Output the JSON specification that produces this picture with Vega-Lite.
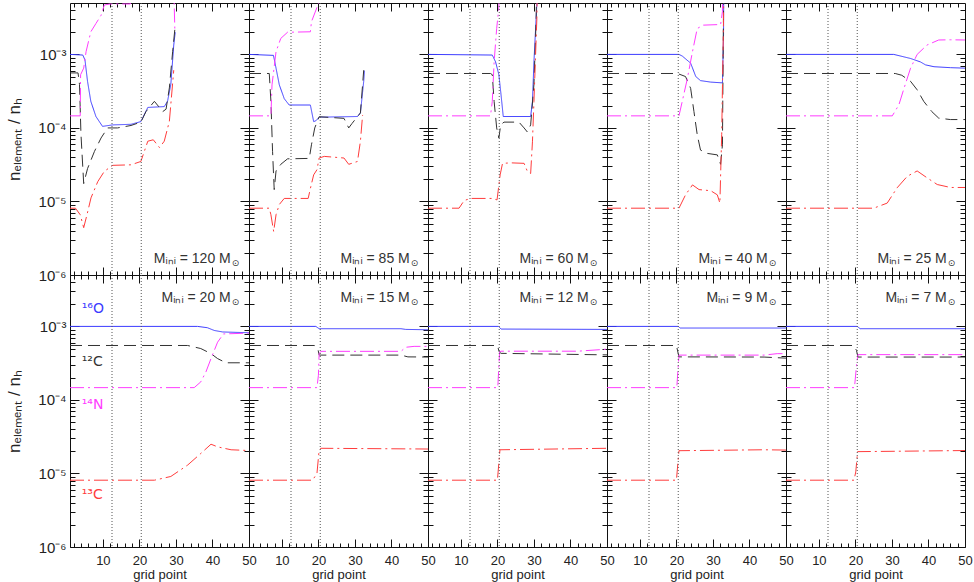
{
"$schema":"https://vega.github.io/schema/vega-lite/v6.json",
"padding":{"left":5,"top":2,"right":5,"bottom":0},
"background":"white",
"columns":5,"spacing":0,"bounds":"flush",
"datasets":{
"vl":[{"x":12.5},{"x":20.5}],
"lab":[
{"m":"120","t":"Mᵢₙᵢ = 120 M","x":45,"y":1.65e-6},
{"m":"85","t":"Mᵢₙᵢ = 85 M","x":45,"y":1.65e-6},
{"m":"60","t":"Mᵢₙᵢ = 60 M","x":45,"y":1.65e-6},
{"m":"40","t":"Mᵢₙᵢ = 40 M","x":45,"y":1.65e-6},
{"m":"25","t":"Mᵢₙᵢ = 25 M","x":45,"y":1.65e-6},
{"m":"20","t":"Mᵢₙᵢ = 20 M","x":45,"y":2.4e-3},
{"m":"15","t":"Mᵢₙᵢ = 15 M","x":45,"y":2.4e-3},
{"m":"12","t":"Mᵢₙᵢ = 12 M","x":45,"y":2.4e-3},
{"m":"9","t":"Mᵢₙᵢ = 9 M","x":45,"y":2.4e-3},
{"m":"7","t":"Mᵢₙᵢ = 7 M","x":45,"y":2.4e-3}],
"sp":[
{"s":"O","t":"¹⁶O","x":4.2,"y":1.75e-3},
{"s":"C12","t":"¹²C","x":4.2,"y":3.3e-4},
{"s":"N","t":"¹⁴N","x":4.2,"y":8.5e-5},
{"s":"C13","t":"¹³C","x":4.2,"y":5.1e-6}],
"lines":[
{"m":"120","s":"O","x":1,"y":1e-3},{"m":"120","s":"O","x":4.5,"y":9.8e-4},{"m":"120","s":"O","x":5.1,"y":8.4e-4},{"m":"120","s":"O","x":5.8,"y":4.3e-4},{"m":"120","s":"O","x":6.7,"y":2.3e-4},{"m":"120","s":"O","x":8.1,"y":1.43e-4},{"m":"120","s":"O","x":9.9,"y":1.05e-4},{"m":"120","s":"O","x":12.7,"y":1.1e-4},{"m":"120","s":"O","x":17.7,"y":1.12e-4},{"m":"120","s":"O","x":20.4,"y":1.22e-4},{"m":"120","s":"O","x":22.3,"y":1.9e-4},{"m":"120","s":"O","x":26.8,"y":1.95e-4},{"m":"120","s":"O","x":27.7,"y":2.3e-4},{"m":"120","s":"O","x":28.6,"y":3.9e-4},{"m":"120","s":"O","x":29.4,"y":1.34e-3},{"m":"120","s":"O","x":29.8,"y":2.0e-3},
{"m":"120","s":"C12","x":1,"y":5.6e-4},{"m":"120","s":"C12","x":3.2,"y":5.6e-4},{"m":"120","s":"C12","x":3.6,"y":3.9e-4},{"m":"120","s":"C12","x":4.0,"y":8.2e-5},{"m":"120","s":"C12","x":4.75,"y":1.75e-5},{"m":"120","s":"C12","x":5.8,"y":2.8e-5},{"m":"120","s":"C12","x":7.7,"y":4.8e-5},{"m":"120","s":"C12","x":9.5,"y":7.3e-5},{"m":"120","s":"C12","x":11.3,"y":1.0e-4},{"m":"120","s":"C12","x":14,"y":1.0e-4},{"m":"120","s":"C12","x":17.7,"y":1.08e-4},{"m":"120","s":"C12","x":20.4,"y":1.2e-4},{"m":"120","s":"C12","x":21.8,"y":1.67e-4},{"m":"120","s":"C12","x":24.1,"y":2.3e-4},{"m":"120","s":"C12","x":26.4,"y":1.67e-4},{"m":"120","s":"C12","x":27.3,"y":1.8e-4},{"m":"120","s":"C12","x":28.2,"y":3.5e-4},{"m":"120","s":"C12","x":29.1,"y":1.09e-3},{"m":"120","s":"C12","x":29.7,"y":2.2e-3},
{"m":"120","s":"N","x":1,"y":1.46e-4},{"m":"120","s":"N","x":3.8,"y":1.46e-4},{"m":"120","s":"N","x":3.9,"y":5.3e-4},{"m":"120","s":"N","x":4.75,"y":6.5e-4},{"m":"120","s":"N","x":5.4,"y":1.09e-3},{"m":"120","s":"N","x":6.7,"y":2.03e-3},{"m":"120","s":"N","x":8.1,"y":2.63e-3},{"m":"120","s":"N","x":9.5,"y":3.4e-3},{"m":"120","s":"N","x":10.4,"y":4.7e-3},{"m":"120","s":"N","x":12,"y":4.85e-3},{"m":"120","s":"N","x":17.5,"y":4.85e-3},{"m":"120","s":"N","x":18,"y":2e-2},{"m":"120","s":"N","x":29.2,"y":2e-2},{"m":"120","s":"N","x":29.7,"y":2.2e-3},
{"m":"120","s":"C13","x":1,"y":8.1e-6},{"m":"120","s":"C13","x":2.5,"y":8.1e-6},{"m":"120","s":"C13","x":3.8,"y":6.6e-6},{"m":"120","s":"C13","x":4.75,"y":4.4e-6},{"m":"120","s":"C13","x":5.65,"y":6.6e-6},{"m":"120","s":"C13","x":6.75,"y":1.12e-5},{"m":"120","s":"C13","x":8.6,"y":1.86e-5},{"m":"120","s":"C13","x":10.4,"y":2.57e-5},{"m":"120","s":"C13","x":12.7,"y":3.1e-5},{"m":"120","s":"C13","x":17.7,"y":3.15e-5},{"m":"120","s":"C13","x":20.4,"y":3.5e-5},{"m":"120","s":"C13","x":22.3,"y":6.6e-5},{"m":"120","s":"C13","x":23.8,"y":6.9e-5},{"m":"120","s":"C13","x":25.5,"y":5.4e-5},{"m":"120","s":"C13","x":26.8,"y":6.6e-5},{"m":"120","s":"C13","x":28.2,"y":1.23e-4},{"m":"120","s":"C13","x":29.4,"y":6.1e-4},

{"m":"85","s":"O","x":1,"y":1e-3},{"m":"85","s":"O","x":7.7,"y":9.7e-4},{"m":"85","s":"O","x":8.4,"y":6.5e-4},{"m":"85","s":"O","x":9.3,"y":3.85e-4},{"m":"85","s":"O","x":10.65,"y":2.5e-4},{"m":"85","s":"O","x":12.0,"y":2.05e-4},{"m":"85","s":"O","x":17.8,"y":2.05e-4},{"m":"85","s":"O","x":18.7,"y":1.22e-4},{"m":"85","s":"O","x":19.3,"y":1.25e-4},{"m":"85","s":"O","x":20.2,"y":1.4e-4},{"m":"85","s":"O","x":30.7,"y":1.43e-4},{"m":"85","s":"O","x":31.5,"y":1.6e-4},{"m":"85","s":"O","x":32.4,"y":4.3e-4},{"m":"85","s":"O","x":32.6,"y":6e-4},
{"m":"85","s":"C12","x":1,"y":5.5e-4},{"m":"85","s":"C12","x":6.55,"y":5.5e-4},{"m":"85","s":"C12","x":7.0,"y":2.3e-4},{"m":"85","s":"C12","x":7.45,"y":4.8e-5},{"m":"85","s":"C12","x":7.9,"y":1.45e-5},{"m":"85","s":"C12","x":8.4,"y":2.6e-5},{"m":"85","s":"C12","x":9.7,"y":3.2e-5},{"m":"85","s":"C12","x":11.55,"y":3.8e-5},{"m":"85","s":"C12","x":17.5,"y":3.85e-5},{"m":"85","s":"C12","x":18.1,"y":5.9e-5},{"m":"85","s":"C12","x":19.0,"y":1.0e-4},{"m":"85","s":"C12","x":20.2,"y":1.42e-4},{"m":"85","s":"C12","x":27.0,"y":1.35e-4},{"m":"85","s":"C12","x":28.3,"y":1.0e-4},{"m":"85","s":"C12","x":29.2,"y":1.15e-4},{"m":"85","s":"C12","x":31.5,"y":1.6e-4},{"m":"85","s":"C12","x":32.4,"y":6.1e-4},
{"m":"85","s":"N","x":1,"y":1.46e-4},{"m":"85","s":"N","x":7.0,"y":1.46e-4},{"m":"85","s":"N","x":7.3,"y":3.85e-4},{"m":"85","s":"N","x":8.4,"y":1.09e-3},{"m":"85","s":"N","x":9.7,"y":1.65e-3},{"m":"85","s":"N","x":11.55,"y":2.0e-3},{"m":"85","s":"N","x":17.8,"y":2.03e-3},{"m":"85","s":"N","x":18.1,"y":2.78e-3},{"m":"85","s":"N","x":20.0,"y":4.9e-3},{"m":"85","s":"N","x":20.3,"y":2e-2},
{"m":"85","s":"C13","x":1,"y":8.1e-6},{"m":"85","s":"C13","x":6.55,"y":8.1e-6},{"m":"85","s":"C13","x":7.0,"y":6.6e-6},{"m":"85","s":"C13","x":7.75,"y":3.9e-6},{"m":"85","s":"C13","x":8.4,"y":6.6e-6},{"m":"85","s":"C13","x":9.3,"y":9.1e-6},{"m":"85","s":"C13","x":10.65,"y":1.1e-5},{"m":"85","s":"C13","x":17.2,"y":1.1e-5},{"m":"85","s":"C13","x":17.8,"y":1.5e-5},{"m":"85","s":"C13","x":18.7,"y":2.3e-5},{"m":"85","s":"C13","x":19.6,"y":2.7e-5},{"m":"85","s":"C13","x":20.2,"y":3.9e-5},{"m":"85","s":"C13","x":21.6,"y":4.1e-5},{"m":"85","s":"C13","x":27.0,"y":3.9e-5},{"m":"85","s":"C13","x":28.3,"y":3.2e-5},{"m":"85","s":"C13","x":30.7,"y":3.5e-5},{"m":"85","s":"C13","x":31.5,"y":6.6e-5},{"m":"85","s":"C13","x":32.1,"y":1.5e-4},

{"m":"60","s":"O","x":1,"y":1e-3},{"m":"60","s":"O","x":18.6,"y":9.8e-4},{"m":"60","s":"O","x":19.5,"y":7.9e-4},{"m":"60","s":"O","x":20.4,"y":5.3e-4},{"m":"60","s":"O","x":21.0,"y":2.8e-4},{"m":"60","s":"O","x":21.6,"y":1.43e-4},{"m":"60","s":"O","x":29.1,"y":1.43e-4},{"m":"60","s":"O","x":29.6,"y":2.3e-4},{"m":"60","s":"O","x":30.0,"y":7.9e-4},{"m":"60","s":"O","x":30.8,"y":4.9e-3},{"m":"60","s":"O","x":31,"y":2e-2},
{"m":"60","s":"C12","x":1,"y":5.5e-4},{"m":"60","s":"C12","x":18.1,"y":5.5e-4},{"m":"60","s":"C12","x":18.6,"y":5.3e-4},{"m":"60","s":"C12","x":19.1,"y":2.3e-4},{"m":"60","s":"C12","x":19.8,"y":1.0e-4},{"m":"60","s":"C12","x":20.4,"y":7.3e-5},{"m":"60","s":"C12","x":20.9,"y":1.1e-4},{"m":"60","s":"C12","x":21.8,"y":1.2e-4},{"m":"60","s":"C12","x":25.9,"y":1.2e-4},{"m":"60","s":"C12","x":27.3,"y":1.0e-4},{"m":"60","s":"C12","x":28.2,"y":8.8e-5},{"m":"60","s":"C12","x":29.1,"y":1.1e-4},{"m":"60","s":"C12","x":30.0,"y":3.9e-4},{"m":"60","s":"C12","x":30.6,"y":3e-3},{"m":"60","s":"C12","x":30.9,"y":2e-2},
{"m":"60","s":"N","x":1,"y":1.46e-4},{"m":"60","s":"N","x":18.1,"y":1.46e-4},{"m":"60","s":"N","x":18.6,"y":2.3e-4},{"m":"60","s":"N","x":19.1,"y":7.9e-4},{"m":"60","s":"N","x":19.8,"y":2.25e-3},{"m":"60","s":"N","x":20.4,"y":4.4e-3},{"m":"60","s":"N","x":20.7,"y":2e-2},
{"m":"60","s":"C13","x":1,"y":8.1e-6},{"m":"60","s":"C13","x":9.5,"y":8.1e-6},{"m":"60","s":"C13","x":10.9,"y":1.03e-5},{"m":"60","s":"C13","x":12.7,"y":1.1e-5},{"m":"60","s":"C13","x":18.6,"y":1.1e-5},{"m":"60","s":"C13","x":19.9,"y":1.05e-5},{"m":"60","s":"C13","x":20.75,"y":2.3e-5},{"m":"60","s":"C13","x":21.4,"y":3.3e-5},{"m":"60","s":"C13","x":23.7,"y":3.35e-5},{"m":"60","s":"C13","x":27.3,"y":3.3e-5},{"m":"60","s":"C13","x":28.2,"y":2.57e-5},{"m":"60","s":"C13","x":29.1,"y":2.4e-5},{"m":"60","s":"C13","x":29.6,"y":6.6e-5},{"m":"60","s":"C13","x":30.0,"y":2.3e-4},{"m":"60","s":"C13","x":30.8,"y":3.08e-3},{"m":"60","s":"C13","x":31.0,"y":2e-2},

{"m":"40","s":"O","x":1,"y":1e-3},{"m":"40","s":"O","x":20.7,"y":1e-3},{"m":"40","s":"O","x":21.6,"y":9.5e-4},{"m":"40","s":"O","x":23.9,"y":7.6e-4},{"m":"40","s":"O","x":25.3,"y":5e-4},{"m":"40","s":"O","x":26.6,"y":4.4e-4},{"m":"40","s":"O","x":29.4,"y":4.2e-4},{"m":"40","s":"O","x":32.6,"y":4.1e-4},{"m":"40","s":"O","x":32.9,"y":1.85e-3},{"m":"40","s":"O","x":33.0,"y":2e-2},
{"m":"40","s":"C12","x":1,"y":5.5e-4},{"m":"40","s":"C12","x":20.3,"y":5.5e-4},{"m":"40","s":"C12","x":22.5,"y":5e-4},{"m":"40","s":"C12","x":23.9,"y":3.45e-4},{"m":"40","s":"C12","x":24.8,"y":1.67e-4},{"m":"40","s":"C12","x":25.7,"y":8.1e-5},{"m":"40","s":"C12","x":26.6,"y":5e-5},{"m":"40","s":"C12","x":28.5,"y":4.5e-5},{"m":"40","s":"C12","x":31.2,"y":4.3e-5},{"m":"40","s":"C12","x":32.1,"y":3.2e-5},{"m":"40","s":"C12","x":32.6,"y":5.9e-5},{"m":"40","s":"C12","x":33.0,"y":2e-2},
{"m":"40","s":"N","x":1,"y":1.46e-4},{"m":"40","s":"N","x":20.7,"y":1.46e-4},{"m":"40","s":"N","x":21.6,"y":2.3e-4},{"m":"40","s":"N","x":23.0,"y":4.7e-4},{"m":"40","s":"N","x":24.4,"y":1.09e-3},{"m":"40","s":"N","x":25.7,"y":2.25e-3},{"m":"40","s":"N","x":27.4,"y":2.5e-3},{"m":"40","s":"N","x":32.1,"y":2.55e-3},{"m":"40","s":"N","x":32.6,"y":3.8e-3},{"m":"40","s":"N","x":32.8,"y":2e-2},
{"m":"40","s":"C13","x":1,"y":8.1e-6},{"m":"40","s":"C13","x":20.7,"y":8.1e-6},{"m":"40","s":"C13","x":22.5,"y":1.23e-5},{"m":"40","s":"C13","x":24.4,"y":1.68e-5},{"m":"40","s":"C13","x":26.2,"y":1.45e-5},{"m":"40","s":"C13","x":29.4,"y":1.4e-5},{"m":"40","s":"C13","x":31.2,"y":1.23e-5},{"m":"40","s":"C13","x":31.9,"y":9.5e-6},{"m":"40","s":"C13","x":32.4,"y":8.2e-5},{"m":"40","s":"C13","x":32.9,"y":3e-3},{"m":"40","s":"C13","x":33.0,"y":2e-2},

{"m":"25","s":"O","x":1,"y":1e-3},{"m":"25","s":"O","x":30.5,"y":1e-3},{"m":"25","s":"O","x":35.1,"y":8.8e-4},{"m":"25","s":"O","x":37.8,"y":7.9e-4},{"m":"25","s":"O","x":39.2,"y":7.2e-4},{"m":"25","s":"O","x":41.5,"y":6.8e-4},{"m":"25","s":"O","x":46.0,"y":6.6e-4},{"m":"25","s":"O","x":50,"y":6.5e-4},
{"m":"25","s":"C12","x":1,"y":5.5e-4},{"m":"25","s":"C12","x":30.9,"y":5.5e-4},{"m":"25","s":"C12","x":32.7,"y":5.2e-4},{"m":"25","s":"C12","x":35.1,"y":4.3e-4},{"m":"25","s":"C12","x":36.9,"y":3.3e-4},{"m":"25","s":"C12","x":38.7,"y":2.3e-4},{"m":"25","s":"C12","x":40.9,"y":1.67e-4},{"m":"25","s":"C12","x":42.8,"y":1.36e-4},{"m":"25","s":"C12","x":46.0,"y":1.3e-4},{"m":"25","s":"C12","x":50,"y":1.3e-4},
{"m":"25","s":"N","x":1,"y":1.46e-4},{"m":"25","s":"N","x":30.1,"y":1.46e-4},{"m":"25","s":"N","x":31.9,"y":2.06e-4},{"m":"25","s":"N","x":33.3,"y":3.45e-4},{"m":"25","s":"N","x":35.1,"y":6.5e-4},{"m":"25","s":"N","x":36.9,"y":1e-3},{"m":"25","s":"N","x":39.6,"y":1.34e-3},{"m":"25","s":"N","x":42.8,"y":1.57e-3},{"m":"25","s":"N","x":46.0,"y":1.58e-3},{"m":"25","s":"N","x":50,"y":1.57e-3},
{"m":"25","s":"C13","x":1,"y":8.1e-6},{"m":"25","s":"C13","x":25.0,"y":8.1e-6},{"m":"25","s":"C13","x":28.7,"y":9.5e-6},{"m":"25","s":"C13","x":31.4,"y":1.53e-5},{"m":"25","s":"C13","x":34.2,"y":2.2e-5},{"m":"25","s":"C13","x":36.9,"y":2.6e-5},{"m":"25","s":"C13","x":39.6,"y":2.1e-5},{"m":"25","s":"C13","x":42.4,"y":1.7e-5},{"m":"25","s":"C13","x":46.0,"y":1.55e-5},{"m":"25","s":"C13","x":50,"y":1.55e-5},

{"m":"20","s":"O","x":1,"y":1e-3},{"m":"20","s":"O","x":35.9,"y":1e-3},{"m":"20","s":"O","x":38.6,"y":9.6e-4},{"m":"20","s":"O","x":40.5,"y":8.8e-4},{"m":"20","s":"O","x":42.8,"y":8.4e-4},{"m":"20","s":"O","x":50,"y":8.2e-4},
{"m":"20","s":"C12","x":1,"y":5.5e-4},{"m":"20","s":"C12","x":33.2,"y":5.5e-4},{"m":"20","s":"C12","x":36.8,"y":5.0e-4},{"m":"20","s":"C12","x":39.6,"y":4.26e-4},{"m":"20","s":"C12","x":41.4,"y":3.65e-4},{"m":"20","s":"C12","x":43.7,"y":3.2e-4},{"m":"20","s":"C12","x":50,"y":3.2e-4},
{"m":"20","s":"N","x":1,"y":1.47e-4},{"m":"20","s":"N","x":35.0,"y":1.47e-4},{"m":"20","s":"N","x":36.8,"y":1.76e-4},{"m":"20","s":"N","x":38.2,"y":2.4e-4},{"m":"20","s":"N","x":39.6,"y":3.65e-4},{"m":"20","s":"N","x":41.4,"y":6.1e-4},{"m":"20","s":"N","x":43.0,"y":7.9e-4},{"m":"20","s":"N","x":50,"y":8.1e-4},
{"m":"20","s":"C13","x":1,"y":8.1e-6},{"m":"20","s":"C13","x":24.1,"y":8.1e-6},{"m":"20","s":"C13","x":28.6,"y":9.1e-6},{"m":"20","s":"C13","x":33.2,"y":1.3e-5},{"m":"20","s":"C13","x":36.8,"y":1.87e-5},{"m":"20","s":"C13","x":39.6,"y":2.5e-5},{"m":"20","s":"C13","x":41.4,"y":2.3e-5},{"m":"20","s":"C13","x":45.1,"y":2.1e-5},{"m":"20","s":"C13","x":50,"y":2.05e-5},

{"m":"15","s":"O","x":1,"y":1e-3},{"m":"15","s":"O","x":19.3,"y":1e-3},{"m":"15","s":"O","x":20.2,"y":9.3e-4},{"m":"15","s":"O","x":42.6,"y":9.3e-4},{"m":"15","s":"O","x":43.9,"y":9.1e-4},{"m":"15","s":"O","x":50,"y":9.0e-4},
{"m":"15","s":"C12","x":1,"y":5.5e-4},{"m":"15","s":"C12","x":18.9,"y":5.5e-4},{"m":"15","s":"C12","x":19.8,"y":5.1e-4},{"m":"15","s":"C12","x":20.2,"y":4.07e-4},{"m":"15","s":"C12","x":42.6,"y":4.07e-4},{"m":"15","s":"C12","x":44.5,"y":3.85e-4},{"m":"15","s":"C12","x":50,"y":3.83e-4},
{"m":"15","s":"N","x":1,"y":1.47e-4},{"m":"15","s":"N","x":19.6,"y":1.47e-4},{"m":"15","s":"N","x":20.0,"y":2.16e-4},{"m":"15","s":"N","x":20.2,"y":4.26e-4},{"m":"15","s":"N","x":20.7,"y":4.58e-4},{"m":"15","s":"N","x":42.6,"y":4.58e-4},{"m":"15","s":"N","x":43.9,"y":5.2e-4},{"m":"15","s":"N","x":46.2,"y":5.35e-4},{"m":"15","s":"N","x":50,"y":5.35e-4},
{"m":"15","s":"C13","x":1,"y":8.1e-6},{"m":"15","s":"C13","x":18.4,"y":8.1e-6},{"m":"15","s":"C13","x":19.6,"y":1.0e-5},{"m":"15","s":"C13","x":20.2,"y":2.08e-5},{"m":"15","s":"C13","x":20.7,"y":2.2e-5},{"m":"15","s":"C13","x":50,"y":2.15e-5},

{"m":"12","s":"O","x":1,"y":1e-3},{"m":"12","s":"O","x":20.3,"y":1e-3},{"m":"12","s":"O","x":21,"y":9.2e-4},{"m":"12","s":"O","x":50,"y":9.1e-4},
{"m":"12","s":"C12","x":1,"y":5.5e-4},{"m":"12","s":"C12","x":20.0,"y":5.5e-4},{"m":"12","s":"C12","x":20.5,"y":4.5e-4},{"m":"12","s":"C12","x":21,"y":4.3e-4},{"m":"12","s":"C12","x":50,"y":4.1e-4},
{"m":"12","s":"N","x":1,"y":1.47e-4},{"m":"12","s":"N","x":20.1,"y":1.47e-4},{"m":"12","s":"N","x":20.6,"y":4.5e-4},{"m":"12","s":"N","x":21,"y":4.6e-4},{"m":"12","s":"N","x":42,"y":4.6e-4},{"m":"12","s":"N","x":50,"y":4.9e-4},
{"m":"12","s":"C13","x":1,"y":8.1e-6},{"m":"12","s":"C13","x":20.0,"y":8.1e-6},{"m":"12","s":"C13","x":20.7,"y":2.1e-5},{"m":"12","s":"C13","x":50,"y":2.2e-5},

{"m":"9","s":"O","x":1,"y":1e-3},{"m":"9","s":"O","x":20.5,"y":1e-3},{"m":"9","s":"O","x":21,"y":9.5e-4},{"m":"9","s":"O","x":50,"y":9.5e-4},
{"m":"9","s":"C12","x":1,"y":5.5e-4},{"m":"9","s":"C12","x":20.0,"y":5.5e-4},{"m":"9","s":"C12","x":20.7,"y":3.85e-4},{"m":"9","s":"C12","x":44,"y":3.83e-4},{"m":"9","s":"C12","x":50,"y":3.7e-4},
{"m":"9","s":"N","x":1,"y":1.47e-4},{"m":"9","s":"N","x":20.1,"y":1.47e-4},{"m":"9","s":"N","x":20.7,"y":4.07e-4},{"m":"9","s":"N","x":44,"y":4.07e-4},{"m":"9","s":"N","x":47.6,"y":4.26e-4},{"m":"9","s":"N","x":50,"y":4.26e-4},
{"m":"9","s":"C13","x":1,"y":8.1e-6},{"m":"9","s":"C13","x":20.0,"y":8.1e-6},{"m":"9","s":"C13","x":20.7,"y":2.04e-5},{"m":"9","s":"C13","x":44,"y":2.1e-5},{"m":"9","s":"C13","x":50,"y":2.08e-5},

{"m":"7","s":"O","x":1,"y":1e-3},{"m":"7","s":"O","x":20.5,"y":1e-3},{"m":"7","s":"O","x":21.3,"y":9.3e-4},{"m":"7","s":"O","x":50,"y":9.3e-4},
{"m":"7","s":"C12","x":1,"y":5.5e-4},{"m":"7","s":"C12","x":19.6,"y":5.5e-4},{"m":"7","s":"C12","x":20.3,"y":4.7e-4},{"m":"7","s":"C12","x":20.7,"y":3.83e-4},{"m":"7","s":"C12","x":50,"y":3.83e-4},
{"m":"7","s":"N","x":1,"y":1.47e-4},{"m":"7","s":"N","x":19.75,"y":1.47e-4},{"m":"7","s":"N","x":20.3,"y":2.96e-4},{"m":"7","s":"N","x":20.7,"y":4.13e-4},{"m":"7","s":"N","x":50,"y":4.13e-4},
{"m":"7","s":"C13","x":1,"y":8.1e-6},{"m":"7","s":"C13","x":19.6,"y":8.1e-6},{"m":"7","s":"C13","x":20.1,"y":1.05e-5},{"m":"7","s":"C13","x":20.6,"y":1.98e-5},{"m":"7","s":"C13","x":50,"y":2.05e-5}
]},
"concat":[
{"width":179,"height":272,"layer":[
 {"data":{"name":"lines"},"transform":[{"filter":"datum.m=='120'"}],"mark":{"type":"line","clip":true,"strokeWidth":1},
  "encoding":{"x":{"field":"x","type":"quantitative","scale":{"domain":[1,50],"nice":false,"zero":false},"axis":{"orient":"bottom","values":[2,4,6,8,10,12,14,16,18,20,22,24,26,28,30,32,34,36,38,40,42,44,46,48],"labels":false,"title":null,"tickSize":{"condition":{"test":"datum.value % 10 == 0","value":-8},"value":-4}}},
   "y":{"field":"y","type":"quantitative","scale":{"type":"log","domain":[1e-6,5e-3],"nice":false},"axis":{"orient":"left","values":[1e-6,2e-6,3e-6,4e-6,5e-6,6e-6,7e-6,8e-6,9e-6,1e-5,2e-5,3e-5,4e-5,5e-5,6e-5,7e-5,8e-5,9e-5,1e-4,2e-4,3e-4,4e-4,5e-4,6e-4,7e-4,8e-4,9e-4,1e-3,2e-3,3e-3,4e-3],"labels":false,"title":null,"tickSize":{"condition":{"test":"datum.value==1e-6||datum.value==1e-5||datum.value==1e-4||datum.value==1e-3","value":-9},"value":-5}}},
   "color":{"field":"s","type":"nominal","scale":{"domain":["O","C12","N","C13"],"range":["#3b3bff","#333333","#ff3cff","#ff3c3c"]},"legend":null},
   "strokeDash":{"field":"s","type":"nominal","scale":{"domain":["O","C12","N","C13"],"range":[[1,0],[12,6],[14,4,2,4],[14,4,2,4]]},"legend":null}}},
 {"data":{"name":"vl"},"mark":{"type":"rule","color":"#555555","strokeDash":[1,2],"strokeWidth":1},
  "encoding":{"x":{"field":"x","type":"quantitative","axis":{"orient":"top","values":[2,4,6,8,10,12,14,16,18,20,22,24,26,28,30,32,34,36,38,40,42,44,46,48],"labels":false,"title":null,"tickSize":{"condition":{"test":"datum.value % 10 == 0","value":-8},"value":-4}}}}},
 {"data":{"name":"lab"},"transform":[{"filter":"datum.m=='120'"}],"mark":{"type":"text","align":"right","baseline":"middle","font":"Liberation Sans","fontSize":14,"color":"#333333"},
  "encoding":{"x":{"field":"x","type":"quantitative","axis":null},"y":{"field":"y","type":"quantitative","scale":{"type":"log"},"axis":{"orient":"right","values":[1e-6,2e-6,3e-6,4e-6,5e-6,6e-6,7e-6,8e-6,9e-6,1e-5,2e-5,3e-5,4e-5,5e-5,6e-5,7e-5,8e-5,9e-5,1e-4,2e-4,3e-4,4e-4,5e-4,6e-4,7e-4,8e-4,9e-4,1e-3,2e-3,3e-3,4e-3],"labels":false,"title":null,"tickSize":{"condition":{"test":"datum.value==1e-6||datum.value==1e-5||datum.value==1e-4||datum.value==1e-3","value":-9},"value":-5}}},"text":{"field":"t"}}},
 {"data":{"name":"lab"},"transform":[{"filter":"datum.m=='120'"}],"mark":{"type":"text","align":"left","baseline":"middle","dx":1,"dy":4,"font":"DejaVu Sans","fontSize":9,"color":"#333333","text":"⊙"},
  "encoding":{"x":{"field":"x","type":"quantitative","axis":null},"y":{"field":"y","type":"quantitative","scale":{"type":"log"},"axis":{"orient":"left","values":[1e-6,1e-5,1e-4,1e-3],"ticks":false,"labelPadding":4,"labelFontSize":15,"labelExpr":"datum.value < 5e-6 ? '10⁻⁶' : datum.value < 5e-5 ? '10⁻⁵' : datum.value < 5e-4 ? '10⁻⁴' : '10⁻³'","title":"nₑₗₑₘₑₙₜ / nₕ","titleFontSize":17,"titlePadding":14}}}}
],"resolve":{"axis":{"x":"independent","y":"independent"}}},

{"width":179,"height":272,"layer":[
 {"data":{"name":"lines"},"transform":[{"filter":"datum.m=='85'"}],"mark":{"type":"line","clip":true,"strokeWidth":1},
  "encoding":{"x":{"field":"x","type":"quantitative","scale":{"domain":[1,50],"nice":false,"zero":false},"axis":{"orient":"bottom","values":[2,4,6,8,10,12,14,16,18,20,22,24,26,28,30,32,34,36,38,40,42,44,46,48],"labels":false,"title":null,"tickSize":{"condition":{"test":"datum.value % 10 == 0","value":-8},"value":-4}}},
   "y":{"field":"y","type":"quantitative","scale":{"type":"log","domain":[1e-6,5e-3],"nice":false},"axis":{"orient":"left","values":[1e-6,2e-6,3e-6,4e-6,5e-6,6e-6,7e-6,8e-6,9e-6,1e-5,2e-5,3e-5,4e-5,5e-5,6e-5,7e-5,8e-5,9e-5,1e-4,2e-4,3e-4,4e-4,5e-4,6e-4,7e-4,8e-4,9e-4,1e-3,2e-3,3e-3,4e-3],"labels":false,"title":null,"tickSize":{"condition":{"test":"datum.value==1e-6||datum.value==1e-5||datum.value==1e-4||datum.value==1e-3","value":-9},"value":-5}}},
   "color":{"field":"s","type":"nominal","scale":{"domain":["O","C12","N","C13"],"range":["#3b3bff","#333333","#ff3cff","#ff3c3c"]},"legend":null},
   "strokeDash":{"field":"s","type":"nominal","scale":{"domain":["O","C12","N","C13"],"range":[[1,0],[12,6],[14,4,2,4],[14,4,2,4]]},"legend":null}}},
 {"data":{"name":"vl"},"mark":{"type":"rule","color":"#555555","strokeDash":[1,2],"strokeWidth":1},
  "encoding":{"x":{"field":"x","type":"quantitative","axis":{"orient":"top","values":[2,4,6,8,10,12,14,16,18,20,22,24,26,28,30,32,34,36,38,40,42,44,46,48],"labels":false,"title":null,"tickSize":{"condition":{"test":"datum.value % 10 == 0","value":-8},"value":-4}}}}},
 {"data":{"name":"lab"},"transform":[{"filter":"datum.m=='85'"}],"mark":{"type":"text","align":"right","baseline":"middle","font":"Liberation Sans","fontSize":14,"color":"#333333"},
  "encoding":{"x":{"field":"x","type":"quantitative","axis":null},"y":{"field":"y","type":"quantitative","scale":{"type":"log"},"axis":{"orient":"right","values":[1e-6,2e-6,3e-6,4e-6,5e-6,6e-6,7e-6,8e-6,9e-6,1e-5,2e-5,3e-5,4e-5,5e-5,6e-5,7e-5,8e-5,9e-5,1e-4,2e-4,3e-4,4e-4,5e-4,6e-4,7e-4,8e-4,9e-4,1e-3,2e-3,3e-3,4e-3],"labels":false,"title":null,"tickSize":{"condition":{"test":"datum.value==1e-6||datum.value==1e-5||datum.value==1e-4||datum.value==1e-3","value":-9},"value":-5}}},"text":{"field":"t"}}},
 {"data":{"name":"lab"},"transform":[{"filter":"datum.m=='85'"}],"mark":{"type":"text","align":"left","baseline":"middle","dx":1,"dy":4,"font":"DejaVu Sans","fontSize":9,"color":"#333333","text":"⊙"},
  "encoding":{"x":{"field":"x","type":"quantitative","axis":null},"y":{"field":"y","type":"quantitative","scale":{"type":"log"},"axis":null}}}
],"resolve":{"axis":{"x":"independent","y":"independent"}}},

{"width":179,"height":272,"layer":[
 {"data":{"name":"lines"},"transform":[{"filter":"datum.m=='60'"}],"mark":{"type":"line","clip":true,"strokeWidth":1},
  "encoding":{"x":{"field":"x","type":"quantitative","scale":{"domain":[1,50],"nice":false,"zero":false},"axis":{"orient":"bottom","values":[2,4,6,8,10,12,14,16,18,20,22,24,26,28,30,32,34,36,38,40,42,44,46,48],"labels":false,"title":null,"tickSize":{"condition":{"test":"datum.value % 10 == 0","value":-8},"value":-4}}},
   "y":{"field":"y","type":"quantitative","scale":{"type":"log","domain":[1e-6,5e-3],"nice":false},"axis":{"orient":"left","values":[1e-6,2e-6,3e-6,4e-6,5e-6,6e-6,7e-6,8e-6,9e-6,1e-5,2e-5,3e-5,4e-5,5e-5,6e-5,7e-5,8e-5,9e-5,1e-4,2e-4,3e-4,4e-4,5e-4,6e-4,7e-4,8e-4,9e-4,1e-3,2e-3,3e-3,4e-3],"labels":false,"title":null,"tickSize":{"condition":{"test":"datum.value==1e-6||datum.value==1e-5||datum.value==1e-4||datum.value==1e-3","value":-9},"value":-5}}},
   "color":{"field":"s","type":"nominal","scale":{"domain":["O","C12","N","C13"],"range":["#3b3bff","#333333","#ff3cff","#ff3c3c"]},"legend":null},
   "strokeDash":{"field":"s","type":"nominal","scale":{"domain":["O","C12","N","C13"],"range":[[1,0],[12,6],[14,4,2,4],[14,4,2,4]]},"legend":null}}},
 {"data":{"name":"vl"},"mark":{"type":"rule","color":"#555555","strokeDash":[1,2],"strokeWidth":1},
  "encoding":{"x":{"field":"x","type":"quantitative","axis":{"orient":"top","values":[2,4,6,8,10,12,14,16,18,20,22,24,26,28,30,32,34,36,38,40,42,44,46,48],"labels":false,"title":null,"tickSize":{"condition":{"test":"datum.value % 10 == 0","value":-8},"value":-4}}}}},
 {"data":{"name":"lab"},"transform":[{"filter":"datum.m=='60'"}],"mark":{"type":"text","align":"right","baseline":"middle","font":"Liberation Sans","fontSize":14,"color":"#333333"},
  "encoding":{"x":{"field":"x","type":"quantitative","axis":null},"y":{"field":"y","type":"quantitative","scale":{"type":"log"},"axis":{"orient":"right","values":[1e-6,2e-6,3e-6,4e-6,5e-6,6e-6,7e-6,8e-6,9e-6,1e-5,2e-5,3e-5,4e-5,5e-5,6e-5,7e-5,8e-5,9e-5,1e-4,2e-4,3e-4,4e-4,5e-4,6e-4,7e-4,8e-4,9e-4,1e-3,2e-3,3e-3,4e-3],"labels":false,"title":null,"tickSize":{"condition":{"test":"datum.value==1e-6||datum.value==1e-5||datum.value==1e-4||datum.value==1e-3","value":-9},"value":-5}}},"text":{"field":"t"}}},
 {"data":{"name":"lab"},"transform":[{"filter":"datum.m=='60'"}],"mark":{"type":"text","align":"left","baseline":"middle","dx":1,"dy":4,"font":"DejaVu Sans","fontSize":9,"color":"#333333","text":"⊙"},
  "encoding":{"x":{"field":"x","type":"quantitative","axis":null},"y":{"field":"y","type":"quantitative","scale":{"type":"log"},"axis":null}}}
],"resolve":{"axis":{"x":"independent","y":"independent"}}},

{"width":179,"height":272,"layer":[
 {"data":{"name":"lines"},"transform":[{"filter":"datum.m=='40'"}],"mark":{"type":"line","clip":true,"strokeWidth":1},
  "encoding":{"x":{"field":"x","type":"quantitative","scale":{"domain":[1,50],"nice":false,"zero":false},"axis":{"orient":"bottom","values":[2,4,6,8,10,12,14,16,18,20,22,24,26,28,30,32,34,36,38,40,42,44,46,48],"labels":false,"title":null,"tickSize":{"condition":{"test":"datum.value % 10 == 0","value":-8},"value":-4}}},
   "y":{"field":"y","type":"quantitative","scale":{"type":"log","domain":[1e-6,5e-3],"nice":false},"axis":{"orient":"left","values":[1e-6,2e-6,3e-6,4e-6,5e-6,6e-6,7e-6,8e-6,9e-6,1e-5,2e-5,3e-5,4e-5,5e-5,6e-5,7e-5,8e-5,9e-5,1e-4,2e-4,3e-4,4e-4,5e-4,6e-4,7e-4,8e-4,9e-4,1e-3,2e-3,3e-3,4e-3],"labels":false,"title":null,"tickSize":{"condition":{"test":"datum.value==1e-6||datum.value==1e-5||datum.value==1e-4||datum.value==1e-3","value":-9},"value":-5}}},
   "color":{"field":"s","type":"nominal","scale":{"domain":["O","C12","N","C13"],"range":["#3b3bff","#333333","#ff3cff","#ff3c3c"]},"legend":null},
   "strokeDash":{"field":"s","type":"nominal","scale":{"domain":["O","C12","N","C13"],"range":[[1,0],[12,6],[14,4,2,4],[14,4,2,4]]},"legend":null}}},
 {"data":{"name":"vl"},"mark":{"type":"rule","color":"#555555","strokeDash":[1,2],"strokeWidth":1},
  "encoding":{"x":{"field":"x","type":"quantitative","axis":{"orient":"top","values":[2,4,6,8,10,12,14,16,18,20,22,24,26,28,30,32,34,36,38,40,42,44,46,48],"labels":false,"title":null,"tickSize":{"condition":{"test":"datum.value % 10 == 0","value":-8},"value":-4}}}}},
 {"data":{"name":"lab"},"transform":[{"filter":"datum.m=='40'"}],"mark":{"type":"text","align":"right","baseline":"middle","font":"Liberation Sans","fontSize":14,"color":"#333333"},
  "encoding":{"x":{"field":"x","type":"quantitative","axis":null},"y":{"field":"y","type":"quantitative","scale":{"type":"log"},"axis":{"orient":"right","values":[1e-6,2e-6,3e-6,4e-6,5e-6,6e-6,7e-6,8e-6,9e-6,1e-5,2e-5,3e-5,4e-5,5e-5,6e-5,7e-5,8e-5,9e-5,1e-4,2e-4,3e-4,4e-4,5e-4,6e-4,7e-4,8e-4,9e-4,1e-3,2e-3,3e-3,4e-3],"labels":false,"title":null,"tickSize":{"condition":{"test":"datum.value==1e-6||datum.value==1e-5||datum.value==1e-4||datum.value==1e-3","value":-9},"value":-5}}},"text":{"field":"t"}}},
 {"data":{"name":"lab"},"transform":[{"filter":"datum.m=='40'"}],"mark":{"type":"text","align":"left","baseline":"middle","dx":1,"dy":4,"font":"DejaVu Sans","fontSize":9,"color":"#333333","text":"⊙"},
  "encoding":{"x":{"field":"x","type":"quantitative","axis":null},"y":{"field":"y","type":"quantitative","scale":{"type":"log"},"axis":null}}}
],"resolve":{"axis":{"x":"independent","y":"independent"}}},

{"width":179,"height":272,"layer":[
 {"data":{"name":"lines"},"transform":[{"filter":"datum.m=='25'"}],"mark":{"type":"line","clip":true,"strokeWidth":1},
  "encoding":{"x":{"field":"x","type":"quantitative","scale":{"domain":[1,50],"nice":false,"zero":false},"axis":{"orient":"bottom","values":[2,4,6,8,10,12,14,16,18,20,22,24,26,28,30,32,34,36,38,40,42,44,46,48],"labels":false,"title":null,"tickSize":{"condition":{"test":"datum.value % 10 == 0","value":-8},"value":-4}}},
   "y":{"field":"y","type":"quantitative","scale":{"type":"log","domain":[1e-6,5e-3],"nice":false},"axis":{"orient":"left","values":[1e-6,2e-6,3e-6,4e-6,5e-6,6e-6,7e-6,8e-6,9e-6,1e-5,2e-5,3e-5,4e-5,5e-5,6e-5,7e-5,8e-5,9e-5,1e-4,2e-4,3e-4,4e-4,5e-4,6e-4,7e-4,8e-4,9e-4,1e-3,2e-3,3e-3,4e-3],"labels":false,"title":null,"tickSize":{"condition":{"test":"datum.value==1e-6||datum.value==1e-5||datum.value==1e-4||datum.value==1e-3","value":-9},"value":-5}}},
   "color":{"field":"s","type":"nominal","scale":{"domain":["O","C12","N","C13"],"range":["#3b3bff","#333333","#ff3cff","#ff3c3c"]},"legend":null},
   "strokeDash":{"field":"s","type":"nominal","scale":{"domain":["O","C12","N","C13"],"range":[[1,0],[12,6],[14,4,2,4],[14,4,2,4]]},"legend":null}}},
 {"data":{"name":"vl"},"mark":{"type":"rule","color":"#555555","strokeDash":[1,2],"strokeWidth":1},
  "encoding":{"x":{"field":"x","type":"quantitative","axis":{"orient":"top","values":[2,4,6,8,10,12,14,16,18,20,22,24,26,28,30,32,34,36,38,40,42,44,46,48],"labels":false,"title":null,"tickSize":{"condition":{"test":"datum.value % 10 == 0","value":-8},"value":-4}}}}},
 {"data":{"name":"lab"},"transform":[{"filter":"datum.m=='25'"}],"mark":{"type":"text","align":"right","baseline":"middle","font":"Liberation Sans","fontSize":14,"color":"#333333"},
  "encoding":{"x":{"field":"x","type":"quantitative","axis":null},"y":{"field":"y","type":"quantitative","scale":{"type":"log"},"axis":{"orient":"right","values":[1e-6,2e-6,3e-6,4e-6,5e-6,6e-6,7e-6,8e-6,9e-6,1e-5,2e-5,3e-5,4e-5,5e-5,6e-5,7e-5,8e-5,9e-5,1e-4,2e-4,3e-4,4e-4,5e-4,6e-4,7e-4,8e-4,9e-4,1e-3,2e-3,3e-3,4e-3],"labels":false,"title":null,"tickSize":{"condition":{"test":"datum.value==1e-6||datum.value==1e-5||datum.value==1e-4||datum.value==1e-3","value":-9},"value":-5}}},"text":{"field":"t"}}},
 {"data":{"name":"lab"},"transform":[{"filter":"datum.m=='25'"}],"mark":{"type":"text","align":"left","baseline":"middle","dx":1,"dy":4,"font":"DejaVu Sans","fontSize":9,"color":"#333333","text":"⊙"},
  "encoding":{"x":{"field":"x","type":"quantitative","axis":null},"y":{"field":"y","type":"quantitative","scale":{"type":"log"},"axis":null}}}
],"resolve":{"axis":{"x":"independent","y":"independent"}}},

{"width":179,"height":272,"layer":[
 {"data":{"name":"lines"},"transform":[{"filter":"datum.m=='20'"}],"mark":{"type":"line","clip":true,"strokeWidth":1},
  "encoding":{"x":{"field":"x","type":"quantitative","scale":{"domain":[1,50],"nice":false,"zero":false},"axis":{"orient":"bottom","values":[2,4,6,8,10,12,14,16,18,20,22,24,26,28,30,32,34,36,38,40,42,44,46,48],"labels":false,"title":null,"tickSize":{"condition":{"test":"datum.value % 10 == 0","value":-8},"value":-4}}},
   "y":{"field":"y","type":"quantitative","scale":{"type":"log","domain":[1e-6,5e-3],"nice":false},"axis":{"orient":"left","values":[1e-6,2e-6,3e-6,4e-6,5e-6,6e-6,7e-6,8e-6,9e-6,1e-5,2e-5,3e-5,4e-5,5e-5,6e-5,7e-5,8e-5,9e-5,1e-4,2e-4,3e-4,4e-4,5e-4,6e-4,7e-4,8e-4,9e-4,1e-3,2e-3,3e-3,4e-3],"labels":false,"title":null,"tickSize":{"condition":{"test":"datum.value==1e-6||datum.value==1e-5||datum.value==1e-4||datum.value==1e-3","value":-9},"value":-5}}},
   "color":{"field":"s","type":"nominal","scale":{"domain":["O","C12","N","C13"],"range":["#3b3bff","#333333","#ff3cff","#ff3c3c"]},"legend":null},
   "strokeDash":{"field":"s","type":"nominal","scale":{"domain":["O","C12","N","C13"],"range":[[1,0],[12,6],[14,4,2,4],[14,4,2,4]]},"legend":null}}},
 {"data":{"name":"vl"},"mark":{"type":"rule","color":"#555555","strokeDash":[1,2],"strokeWidth":1},
  "encoding":{"x":{"field":"x","type":"quantitative","axis":{"orient":"top","values":[2,4,6,8,10,12,14,16,18,20,22,24,26,28,30,32,34,36,38,40,42,44,46,48],"labels":false,"title":null,"tickSize":{"condition":{"test":"datum.value % 10 == 0","value":-8},"value":-4}}}}},
 {"data":{"name":"lab"},"transform":[{"filter":"datum.m=='20'"}],"mark":{"type":"text","align":"right","baseline":"middle","font":"Liberation Sans","fontSize":14,"color":"#333333"},
  "encoding":{"x":{"field":"x","type":"quantitative","axis":null},"y":{"field":"y","type":"quantitative","scale":{"type":"log"},"axis":{"orient":"right","values":[1e-6,2e-6,3e-6,4e-6,5e-6,6e-6,7e-6,8e-6,9e-6,1e-5,2e-5,3e-5,4e-5,5e-5,6e-5,7e-5,8e-5,9e-5,1e-4,2e-4,3e-4,4e-4,5e-4,6e-4,7e-4,8e-4,9e-4,1e-3,2e-3,3e-3,4e-3],"labels":false,"title":null,"tickSize":{"condition":{"test":"datum.value==1e-6||datum.value==1e-5||datum.value==1e-4||datum.value==1e-3","value":-9},"value":-5}}},"text":{"field":"t"}}},
 {"data":{"name":"lab"},"transform":[{"filter":"datum.m=='20'"}],"mark":{"type":"text","align":"left","baseline":"middle","dx":1,"dy":4,"font":"DejaVu Sans","fontSize":9,"color":"#333333","text":"⊙"},
  "encoding":{"x":{"field":"x","type":"quantitative","axis":{"orient":"bottom","values":[10,20,30,40,50],"ticks":false,"labelPadding":7,"title":"grid point","titlePadding":1}},"y":{"field":"y","type":"quantitative","scale":{"type":"log"},"axis":{"orient":"left","values":[1e-6,1e-5,1e-4,1e-3],"ticks":false,"labelPadding":4,"labelFontSize":15,"labelExpr":"datum.value < 5e-6 ? '10⁻⁶' : datum.value < 5e-5 ? '10⁻⁵' : datum.value < 5e-4 ? '10⁻⁴' : '10⁻³'","title":"nₑₗₑₘₑₙₜ / nₕ","titleFontSize":17,"titlePadding":14}}}},
 {"data":{"name":"sp"},"mark":{"type":"text","align":"left","baseline":"middle","font":"DejaVu Sans","fontSize":14},
  "encoding":{"x":{"field":"x","type":"quantitative","axis":null},"y":{"field":"y","type":"quantitative","scale":{"type":"log"},"axis":null},"text":{"field":"t"},"color":{"field":"s","type":"nominal","legend":null}}}
],"resolve":{"axis":{"x":"independent","y":"independent"}}},

{"width":179,"height":272,"layer":[
 {"data":{"name":"lines"},"transform":[{"filter":"datum.m=='15'"}],"mark":{"type":"line","clip":true,"strokeWidth":1},
  "encoding":{"x":{"field":"x","type":"quantitative","scale":{"domain":[1,50],"nice":false,"zero":false},"axis":{"orient":"bottom","values":[2,4,6,8,10,12,14,16,18,20,22,24,26,28,30,32,34,36,38,40,42,44,46,48],"labels":false,"title":null,"tickSize":{"condition":{"test":"datum.value % 10 == 0","value":-8},"value":-4}}},
   "y":{"field":"y","type":"quantitative","scale":{"type":"log","domain":[1e-6,5e-3],"nice":false},"axis":{"orient":"left","values":[1e-6,2e-6,3e-6,4e-6,5e-6,6e-6,7e-6,8e-6,9e-6,1e-5,2e-5,3e-5,4e-5,5e-5,6e-5,7e-5,8e-5,9e-5,1e-4,2e-4,3e-4,4e-4,5e-4,6e-4,7e-4,8e-4,9e-4,1e-3,2e-3,3e-3,4e-3],"labels":false,"title":null,"tickSize":{"condition":{"test":"datum.value==1e-6||datum.value==1e-5||datum.value==1e-4||datum.value==1e-3","value":-9},"value":-5}}},
   "color":{"field":"s","type":"nominal","scale":{"domain":["O","C12","N","C13"],"range":["#3b3bff","#333333","#ff3cff","#ff3c3c"]},"legend":null},
   "strokeDash":{"field":"s","type":"nominal","scale":{"domain":["O","C12","N","C13"],"range":[[1,0],[12,6],[14,4,2,4],[14,4,2,4]]},"legend":null}}},
 {"data":{"name":"vl"},"mark":{"type":"rule","color":"#555555","strokeDash":[1,2],"strokeWidth":1},
  "encoding":{"x":{"field":"x","type":"quantitative","axis":{"orient":"top","values":[2,4,6,8,10,12,14,16,18,20,22,24,26,28,30,32,34,36,38,40,42,44,46,48],"labels":false,"title":null,"tickSize":{"condition":{"test":"datum.value % 10 == 0","value":-8},"value":-4}}}}},
 {"data":{"name":"lab"},"transform":[{"filter":"datum.m=='15'"}],"mark":{"type":"text","align":"right","baseline":"middle","font":"Liberation Sans","fontSize":14,"color":"#333333"},
  "encoding":{"x":{"field":"x","type":"quantitative","axis":null},"y":{"field":"y","type":"quantitative","scale":{"type":"log"},"axis":{"orient":"right","values":[1e-6,2e-6,3e-6,4e-6,5e-6,6e-6,7e-6,8e-6,9e-6,1e-5,2e-5,3e-5,4e-5,5e-5,6e-5,7e-5,8e-5,9e-5,1e-4,2e-4,3e-4,4e-4,5e-4,6e-4,7e-4,8e-4,9e-4,1e-3,2e-3,3e-3,4e-3],"labels":false,"title":null,"tickSize":{"condition":{"test":"datum.value==1e-6||datum.value==1e-5||datum.value==1e-4||datum.value==1e-3","value":-9},"value":-5}}},"text":{"field":"t"}}},
 {"data":{"name":"lab"},"transform":[{"filter":"datum.m=='15'"}],"mark":{"type":"text","align":"left","baseline":"middle","dx":1,"dy":4,"font":"DejaVu Sans","fontSize":9,"color":"#333333","text":"⊙"},
  "encoding":{"x":{"field":"x","type":"quantitative","axis":{"orient":"bottom","values":[10,20,30,40,50],"ticks":false,"labelPadding":7,"title":"grid point","titlePadding":1}},"y":{"field":"y","type":"quantitative","scale":{"type":"log"},"axis":null}}}
],"resolve":{"axis":{"x":"independent","y":"independent"}}},

{"width":179,"height":272,"layer":[
 {"data":{"name":"lines"},"transform":[{"filter":"datum.m=='12'"}],"mark":{"type":"line","clip":true,"strokeWidth":1},
  "encoding":{"x":{"field":"x","type":"quantitative","scale":{"domain":[1,50],"nice":false,"zero":false},"axis":{"orient":"bottom","values":[2,4,6,8,10,12,14,16,18,20,22,24,26,28,30,32,34,36,38,40,42,44,46,48],"labels":false,"title":null,"tickSize":{"condition":{"test":"datum.value % 10 == 0","value":-8},"value":-4}}},
   "y":{"field":"y","type":"quantitative","scale":{"type":"log","domain":[1e-6,5e-3],"nice":false},"axis":{"orient":"left","values":[1e-6,2e-6,3e-6,4e-6,5e-6,6e-6,7e-6,8e-6,9e-6,1e-5,2e-5,3e-5,4e-5,5e-5,6e-5,7e-5,8e-5,9e-5,1e-4,2e-4,3e-4,4e-4,5e-4,6e-4,7e-4,8e-4,9e-4,1e-3,2e-3,3e-3,4e-3],"labels":false,"title":null,"tickSize":{"condition":{"test":"datum.value==1e-6||datum.value==1e-5||datum.value==1e-4||datum.value==1e-3","value":-9},"value":-5}}},
   "color":{"field":"s","type":"nominal","scale":{"domain":["O","C12","N","C13"],"range":["#3b3bff","#333333","#ff3cff","#ff3c3c"]},"legend":null},
   "strokeDash":{"field":"s","type":"nominal","scale":{"domain":["O","C12","N","C13"],"range":[[1,0],[12,6],[14,4,2,4],[14,4,2,4]]},"legend":null}}},
 {"data":{"name":"vl"},"mark":{"type":"rule","color":"#555555","strokeDash":[1,2],"strokeWidth":1},
  "encoding":{"x":{"field":"x","type":"quantitative","axis":{"orient":"top","values":[2,4,6,8,10,12,14,16,18,20,22,24,26,28,30,32,34,36,38,40,42,44,46,48],"labels":false,"title":null,"tickSize":{"condition":{"test":"datum.value % 10 == 0","value":-8},"value":-4}}}}},
 {"data":{"name":"lab"},"transform":[{"filter":"datum.m=='12'"}],"mark":{"type":"text","align":"right","baseline":"middle","font":"Liberation Sans","fontSize":14,"color":"#333333"},
  "encoding":{"x":{"field":"x","type":"quantitative","axis":null},"y":{"field":"y","type":"quantitative","scale":{"type":"log"},"axis":{"orient":"right","values":[1e-6,2e-6,3e-6,4e-6,5e-6,6e-6,7e-6,8e-6,9e-6,1e-5,2e-5,3e-5,4e-5,5e-5,6e-5,7e-5,8e-5,9e-5,1e-4,2e-4,3e-4,4e-4,5e-4,6e-4,7e-4,8e-4,9e-4,1e-3,2e-3,3e-3,4e-3],"labels":false,"title":null,"tickSize":{"condition":{"test":"datum.value==1e-6||datum.value==1e-5||datum.value==1e-4||datum.value==1e-3","value":-9},"value":-5}}},"text":{"field":"t"}}},
 {"data":{"name":"lab"},"transform":[{"filter":"datum.m=='12'"}],"mark":{"type":"text","align":"left","baseline":"middle","dx":1,"dy":4,"font":"DejaVu Sans","fontSize":9,"color":"#333333","text":"⊙"},
  "encoding":{"x":{"field":"x","type":"quantitative","axis":{"orient":"bottom","values":[10,20,30,40,50],"ticks":false,"labelPadding":7,"title":"grid point","titlePadding":1}},"y":{"field":"y","type":"quantitative","scale":{"type":"log"},"axis":null}}}
],"resolve":{"axis":{"x":"independent","y":"independent"}}},

{"width":179,"height":272,"layer":[
 {"data":{"name":"lines"},"transform":[{"filter":"datum.m=='9'"}],"mark":{"type":"line","clip":true,"strokeWidth":1},
  "encoding":{"x":{"field":"x","type":"quantitative","scale":{"domain":[1,50],"nice":false,"zero":false},"axis":{"orient":"bottom","values":[2,4,6,8,10,12,14,16,18,20,22,24,26,28,30,32,34,36,38,40,42,44,46,48],"labels":false,"title":null,"tickSize":{"condition":{"test":"datum.value % 10 == 0","value":-8},"value":-4}}},
   "y":{"field":"y","type":"quantitative","scale":{"type":"log","domain":[1e-6,5e-3],"nice":false},"axis":{"orient":"left","values":[1e-6,2e-6,3e-6,4e-6,5e-6,6e-6,7e-6,8e-6,9e-6,1e-5,2e-5,3e-5,4e-5,5e-5,6e-5,7e-5,8e-5,9e-5,1e-4,2e-4,3e-4,4e-4,5e-4,6e-4,7e-4,8e-4,9e-4,1e-3,2e-3,3e-3,4e-3],"labels":false,"title":null,"tickSize":{"condition":{"test":"datum.value==1e-6||datum.value==1e-5||datum.value==1e-4||datum.value==1e-3","value":-9},"value":-5}}},
   "color":{"field":"s","type":"nominal","scale":{"domain":["O","C12","N","C13"],"range":["#3b3bff","#333333","#ff3cff","#ff3c3c"]},"legend":null},
   "strokeDash":{"field":"s","type":"nominal","scale":{"domain":["O","C12","N","C13"],"range":[[1,0],[12,6],[14,4,2,4],[14,4,2,4]]},"legend":null}}},
 {"data":{"name":"vl"},"mark":{"type":"rule","color":"#555555","strokeDash":[1,2],"strokeWidth":1},
  "encoding":{"x":{"field":"x","type":"quantitative","axis":{"orient":"top","values":[2,4,6,8,10,12,14,16,18,20,22,24,26,28,30,32,34,36,38,40,42,44,46,48],"labels":false,"title":null,"tickSize":{"condition":{"test":"datum.value % 10 == 0","value":-8},"value":-4}}}}},
 {"data":{"name":"lab"},"transform":[{"filter":"datum.m=='9'"}],"mark":{"type":"text","align":"right","baseline":"middle","font":"Liberation Sans","fontSize":14,"color":"#333333"},
  "encoding":{"x":{"field":"x","type":"quantitative","axis":null},"y":{"field":"y","type":"quantitative","scale":{"type":"log"},"axis":{"orient":"right","values":[1e-6,2e-6,3e-6,4e-6,5e-6,6e-6,7e-6,8e-6,9e-6,1e-5,2e-5,3e-5,4e-5,5e-5,6e-5,7e-5,8e-5,9e-5,1e-4,2e-4,3e-4,4e-4,5e-4,6e-4,7e-4,8e-4,9e-4,1e-3,2e-3,3e-3,4e-3],"labels":false,"title":null,"tickSize":{"condition":{"test":"datum.value==1e-6||datum.value==1e-5||datum.value==1e-4||datum.value==1e-3","value":-9},"value":-5}}},"text":{"field":"t"}}},
 {"data":{"name":"lab"},"transform":[{"filter":"datum.m=='9'"}],"mark":{"type":"text","align":"left","baseline":"middle","dx":1,"dy":4,"font":"DejaVu Sans","fontSize":9,"color":"#333333","text":"⊙"},
  "encoding":{"x":{"field":"x","type":"quantitative","axis":{"orient":"bottom","values":[10,20,30,40,50],"ticks":false,"labelPadding":7,"title":"grid point","titlePadding":1}},"y":{"field":"y","type":"quantitative","scale":{"type":"log"},"axis":null}}}
],"resolve":{"axis":{"x":"independent","y":"independent"}}},

{"width":179,"height":272,"layer":[
 {"data":{"name":"lines"},"transform":[{"filter":"datum.m=='7'"}],"mark":{"type":"line","clip":true,"strokeWidth":1},
  "encoding":{"x":{"field":"x","type":"quantitative","scale":{"domain":[1,50],"nice":false,"zero":false},"axis":{"orient":"bottom","values":[2,4,6,8,10,12,14,16,18,20,22,24,26,28,30,32,34,36,38,40,42,44,46,48],"labels":false,"title":null,"tickSize":{"condition":{"test":"datum.value % 10 == 0","value":-8},"value":-4}}},
   "y":{"field":"y","type":"quantitative","scale":{"type":"log","domain":[1e-6,5e-3],"nice":false},"axis":{"orient":"left","values":[1e-6,2e-6,3e-6,4e-6,5e-6,6e-6,7e-6,8e-6,9e-6,1e-5,2e-5,3e-5,4e-5,5e-5,6e-5,7e-5,8e-5,9e-5,1e-4,2e-4,3e-4,4e-4,5e-4,6e-4,7e-4,8e-4,9e-4,1e-3,2e-3,3e-3,4e-3],"labels":false,"title":null,"tickSize":{"condition":{"test":"datum.value==1e-6||datum.value==1e-5||datum.value==1e-4||datum.value==1e-3","value":-9},"value":-5}}},
   "color":{"field":"s","type":"nominal","scale":{"domain":["O","C12","N","C13"],"range":["#3b3bff","#333333","#ff3cff","#ff3c3c"]},"legend":null},
   "strokeDash":{"field":"s","type":"nominal","scale":{"domain":["O","C12","N","C13"],"range":[[1,0],[12,6],[14,4,2,4],[14,4,2,4]]},"legend":null}}},
 {"data":{"name":"vl"},"mark":{"type":"rule","color":"#555555","strokeDash":[1,2],"strokeWidth":1},
  "encoding":{"x":{"field":"x","type":"quantitative","axis":{"orient":"top","values":[2,4,6,8,10,12,14,16,18,20,22,24,26,28,30,32,34,36,38,40,42,44,46,48],"labels":false,"title":null,"tickSize":{"condition":{"test":"datum.value % 10 == 0","value":-8},"value":-4}}}}},
 {"data":{"name":"lab"},"transform":[{"filter":"datum.m=='7'"}],"mark":{"type":"text","align":"right","baseline":"middle","font":"Liberation Sans","fontSize":14,"color":"#333333"},
  "encoding":{"x":{"field":"x","type":"quantitative","axis":null},"y":{"field":"y","type":"quantitative","scale":{"type":"log"},"axis":{"orient":"right","values":[1e-6,2e-6,3e-6,4e-6,5e-6,6e-6,7e-6,8e-6,9e-6,1e-5,2e-5,3e-5,4e-5,5e-5,6e-5,7e-5,8e-5,9e-5,1e-4,2e-4,3e-4,4e-4,5e-4,6e-4,7e-4,8e-4,9e-4,1e-3,2e-3,3e-3,4e-3],"labels":false,"title":null,"tickSize":{"condition":{"test":"datum.value==1e-6||datum.value==1e-5||datum.value==1e-4||datum.value==1e-3","value":-9},"value":-5}}},"text":{"field":"t"}}},
 {"data":{"name":"lab"},"transform":[{"filter":"datum.m=='7'"}],"mark":{"type":"text","align":"left","baseline":"middle","dx":1,"dy":4,"font":"DejaVu Sans","fontSize":9,"color":"#333333","text":"⊙"},
  "encoding":{"x":{"field":"x","type":"quantitative","axis":{"orient":"bottom","values":[10,20,30,40,50],"ticks":false,"labelPadding":7,"title":"grid point","titlePadding":1}},"y":{"field":"y","type":"quantitative","scale":{"type":"log"},"axis":null}}}
],"resolve":{"axis":{"x":"independent","y":"independent"}}}
],
"config":{
 "view":{"stroke":"#111111","strokeWidth":1},
 "axis":{"grid":false,"domain":false,"tickColor":"#111111","tickWidth":1,"labelFont":"Liberation Sans","labelFontSize":13,"labelColor":"#222222","titleFont":"Liberation Sans","titleFontSize":13,"titleFontWeight":"normal","titleColor":"#222222","labelFlush":false,"labelOverlap":false,"labelBound":false}
}
}
